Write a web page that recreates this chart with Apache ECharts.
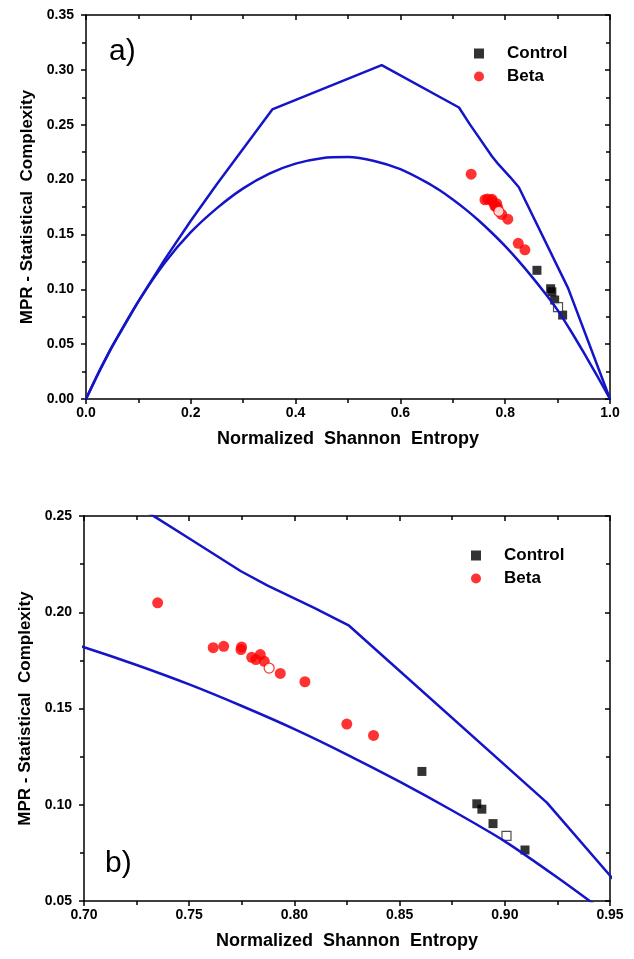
<!DOCTYPE html>
<html>
<head>
<meta charset="utf-8">
<style>
  html, body {margin: 0; padding: 0; background: #fff;}
  #main {width: 634px; height: 959px;}
</style>
<script src="https://cdn.jsdelivr.net/npm/echarts@6/dist/echarts.min.js"></script>
</head>
<body>
<div id="main"></div>
<script>
// complexity-entropy plane, values
const controlH = [0.8606, 0.8867, 0.8891, 0.8944, 0.9096];
const controlC = [0.1173, 0.1005, 0.0977, 0.0902, 0.0765];
const controlOpenH = [0.9008];
const controlOpenC = [0.0838];

const betaH = [0.7350, 0.7614, 0.7664, 0.7749, 0.7746, 0.7797, 0.7838, 0.7817, 0.7857, 0.7933, 0.8050, 0.8249, 0.8376];
const betaC = [0.2049, 0.1816, 0.1823, 0.1820, 0.1806, 0.1766, 0.1780, 0.1754, 0.1745, 0.1682, 0.1639, 0.1419, 0.1360];
const betaOpenH = [0.7880];
const betaOpenC = [0.1710];

// lower bound (C min)
const cMinH = [0, 0.025, 0.05, 0.1, 0.15, 0.2, 0.25, 0.3, 0.35, 0.4, 0.45, 0.5, 0.55, 0.6, 0.65, 0.675, 0.7, 0.725, 0.75, 0.775, 0.8, 0.825, 0.85, 0.875, 0.9, 0.925, 0.95, 0.975, 1];
const cMinC = [0, 0.025, 0.048, 0.089, 0.124, 0.152, 0.174, 0.192, 0.2055, 0.2145, 0.2195, 0.2205, 0.2170, 0.2095, 0.1975, 0.1902, 0.1818, 0.1726, 0.1625, 0.1513, 0.1393, 0.1261, 0.1120, 0.0970, 0.0810, 0.0622, 0.0422, 0.0215, 0];
// upper bound (C max)
const cMaxH = [0, 0.025, 0.05, 0.1, 0.15, 0.2, 0.25, 0.3555, 0.5643, 0.7118, 0.7326, 0.7508, 0.7746, 0.7873, 0.8094, 0.826, 0.920, 1];
const cMaxC = [0, 0.025, 0.048, 0.089, 0.127, 0.1625, 0.196, 0.2639, 0.3043, 0.2657, 0.2503, 0.2378, 0.2213, 0.2138, 0.2023, 0.193, 0.1011, 0];

const zip = (a, b) => a.map((v, i) => [v, b[i]]);

const font = 'Liberation Sans, Arial, sans-serif';
const blue = '#1414c8';

const chart = echarts.init(document.getElementById('main'));

const grids = [
  {left: 86, top: 15, width: 524, height: 384},
  {left: 84, top: 516, width: 526, height: 385}
];
const xRanges = [{min: 0, max: 1, interval: 0.2, dec: 1}, {min: 0.7, max: 0.95, interval: 0.05, dec: 2}];
const yRanges = [{min: 0, max: 0.35, interval: 0.05}, {min: 0.05, max: 0.25, interval: 0.05}];

const line = {color: '#000', width: 1.5};
const xAxis = [];
const yAxis = [];
grids.forEach((g, i) => {
  const xr = xRanges[i];
  const yr = yRanges[i];
  xAxis.push({
    gridIndex: i, type: 'value', position: 'bottom',
    min: xr.min, max: xr.max, interval: xr.interval,
    axisLine: {onZero: false, lineStyle: line},
    axisTick: {inside: false, length: 5, lineStyle: line},
    minorTick: {show: true, splitNumber: 2, length: 4, lineStyle: line},
    splitLine: {show: false},
    axisLabel: {formatter: v => v.toFixed(xr.dec), color: '#000', fontWeight: 'bold', fontSize: 14, fontFamily: font, margin: 7},
    name: 'Normalized  Shannon  Entropy', nameLocation: 'middle', nameGap: 31,
    nameTextStyle: {color: '#000', fontWeight: 'bold', fontSize: 18, fontFamily: font}
  });
  xAxis.push({
    gridIndex: i, type: 'value', position: 'top',
    min: xr.min, max: xr.max, interval: xr.interval,
    axisLine: {onZero: false, lineStyle: line},
    axisTick: {inside: true, length: 5, lineStyle: line},
    minorTick: {show: true, splitNumber: 2, length: 4, lineStyle: line},
    splitLine: {show: false},
    axisLabel: {show: false}
  });
  yAxis.push({
    gridIndex: i, type: 'value', position: 'left',
    min: yr.min, max: yr.max, interval: yr.interval,
    axisLine: {onZero: false, lineStyle: line},
    axisTick: {inside: false, length: 5, lineStyle: line},
    minorTick: {show: true, splitNumber: 2, length: 4, lineStyle: line},
    splitLine: {show: false},
    axisLabel: {formatter: v => v.toFixed(2), color: '#000', fontWeight: 'bold', fontSize: 14, fontFamily: font, margin: 12},
    name: 'MPR - Statistical  Complexity', nameLocation: 'middle', nameGap: 49,
    nameTextStyle: {color: '#000', fontWeight: 'bold', fontSize: 17, fontFamily: font}
  });
  yAxis.push({
    gridIndex: i, type: 'value', position: 'right',
    min: yr.min, max: yr.max, interval: yr.interval,
    axisLine: {onZero: false, lineStyle: line},
    axisTick: {inside: true, length: 5, lineStyle: line},
    minorTick: {show: true, splitNumber: 2, length: 4, lineStyle: line},
    splitLine: {show: false},
    axisLabel: {show: false}
  });
});

const series = [];
grids.forEach((g, i) => {
  const xi = i * 2, yi = i * 2;
  series.push(
    {type: 'line', name: 'Cmin', xAxisIndex: xi, yAxisIndex: yi, data: zip(cMinH, cMinC),
      showSymbol: false, smooth: 0.25, clip: true, silent: true,
      lineStyle: {color: blue, width: 2.5}},
    {type: 'line', name: 'Cmax', xAxisIndex: xi, yAxisIndex: yi, data: zip(cMaxH, cMaxC),
      showSymbol: false, clip: true, silent: true,
      lineStyle: {color: blue, width: 2.5}},
    {type: 'scatter', name: 'Control', xAxisIndex: xi, yAxisIndex: yi, data: zip(controlH, controlC),
      symbol: 'rect', symbolSize: 9, itemStyle: {color: '#000'}},
    {type: 'scatter', name: 'Control mean', xAxisIndex: xi, yAxisIndex: yi, data: zip(controlOpenH, controlOpenC),
      symbol: 'rect', symbolSize: 9, itemStyle: {color: '#fff', borderColor: '#222', borderWidth: 1.2}},
    {type: 'scatter', name: 'Beta', xAxisIndex: xi, yAxisIndex: yi, data: zip(betaH, betaC),
      symbol: 'circle', symbolSize: 11, itemStyle: {color: '#ff0000'}},
    {type: 'scatter', name: 'Beta mean', xAxisIndex: xi, yAxisIndex: yi, data: zip(betaOpenH, betaOpenC),
      symbol: 'circle', symbolSize: 10, itemStyle: {color: '#fff', borderColor: '#ff0000', borderWidth: 1.2}}
  );
});

const legendBase = {
  orient: 'vertical', itemWidth: 46, itemHeight: 10, itemGap: 6,
  textStyle: {color: '#000', fontWeight: 'bold', fontSize: 17, fontFamily: font},
  data: [{name: 'Control', icon: 'path://M0 0H10V10H0Z'}, {name: 'Beta', icon: 'circle'}]
};

chart.setOption({
  animation: false,
  backgroundColor: '#fff',
  grid: grids,
  xAxis: xAxis,
  yAxis: yAxis,
  legend: [
    Object.assign({left: 469, top: 40}, legendBase),
    Object.assign({left: 466, top: 542}, legendBase)
  ],
  graphic: [
    {type: 'text', left: 109, top: 37, style: {text: 'a)', fontSize: 30, fontFamily: font, fill: '#000'}},
    {type: 'text', left: 105, top: 849, style: {text: 'b)', fontSize: 30, fontFamily: font, fill: '#000'}}
  ],
  series: series
});
</script>
</body>
</html>
